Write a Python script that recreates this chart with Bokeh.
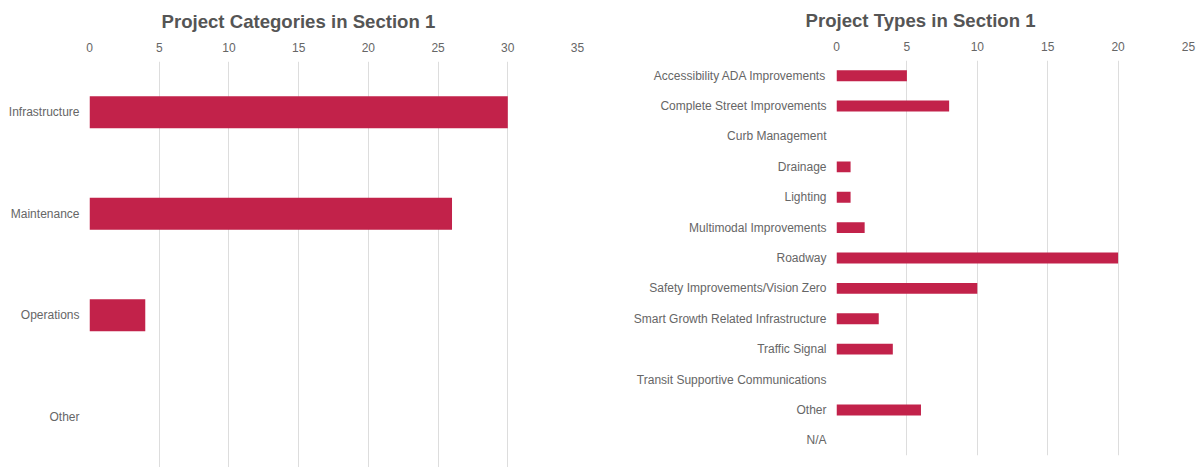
from bokeh.plotting import figure
from bokeh.layouts import row
from bokeh.models import FactorRange, Range1d, FixedTicker
from bokeh.embed import file_html
from bokeh.resources import INLINE

categories = ["Infrastructure", "Maintenance", "Operations", "Other"]
category_counts = [30, 26, 4, 0]

types = ["Accessibility ADA Improvements", "Complete Street Improvements", "Curb Management",
         "Drainage", "Lighting", "Multimodal Improvements", "Roadway",
         "Safety Improvements/Vision Zero", "Smart Growth Related Infrastructure",
         "Traffic Signal", "Transit Supportive Communications", "Other", "N/A"]
type_counts = [5, 8, 0, 1, 1, 2, 20, 10, 3, 4, 0, 6, 0]

left_ticks = [0, 5, 10, 15, 20, 25, 30, 35]
right_ticks = [0, 5, 10, 15, 20, 25]

BAR = "#C2224A"
FONT = "Liberation Sans"


def style(p, ticks, title_offset):
    p.title.text_font = FONT
    p.title.text_font_size = "18.6px"
    p.title.text_color = "#555555"
    p.title.align = "left"
    p.title.vertical_align = "top"
    p.title.offset = title_offset
    p.title.standoff = 11
    p.outline_line_color = None
    p.ygrid.grid_line_color = None
    p.xgrid.grid_line_color = "#dddddd"
    p.xgrid.ticker = FixedTicker(ticks=ticks)
    for ax in p.xaxis:
        ax.ticker = FixedTicker(ticks=ticks)
        ax.axis_line_color = None
        ax.major_tick_line_color = None
        ax.minor_tick_line_color = None
        ax.major_label_text_font = FONT
        ax.major_label_text_font_size = "12px"
        ax.major_label_text_color = "#666666"
        ax.major_label_standoff = 4
    for ax in p.yaxis:
        ax.axis_line_color = None
        ax.major_tick_line_color = None
        ax.minor_tick_line_color = None
        ax.major_label_text_font = FONT
        ax.major_label_text_font_size = "12px"
        ax.major_label_text_color = "#666666"
        ax.major_label_standoff = 4
    p.frame_align = False


p1 = figure(width=599, height=467, output_backend="svg", toolbar_location=None,
            x_axis_location="above", title="Project Categories in Section 1",
            y_range=FactorRange(factors=list(reversed(categories)), range_padding=0),
            x_range=Range1d(0, 35),
            min_border_left=89, min_border_right=22, min_border_bottom=0, min_border_top=61)
p1.hbar(y=categories, right=category_counts, height=0.315, fill_color=BAR, line_color=None)
style(p1, left_ticks, 72)

p2 = figure(width=600, height=467, output_backend="svg", toolbar_location=None,
            x_axis_location="above", title="Project Types in Section 1",
            y_range=FactorRange(factors=list(reversed(types)), range_padding=0),
            x_range=Range1d(0, 25),
            min_border_left=237, min_border_right=11, min_border_bottom=12, min_border_top=60)
p2.hbar(y=types, right=type_counts, height=0.36, fill_color=BAR, line_color=None)
style(p2, right_ticks, -31)

layout = row(p1, p2)
open("out.html", "w").write(file_html(layout, INLINE))
